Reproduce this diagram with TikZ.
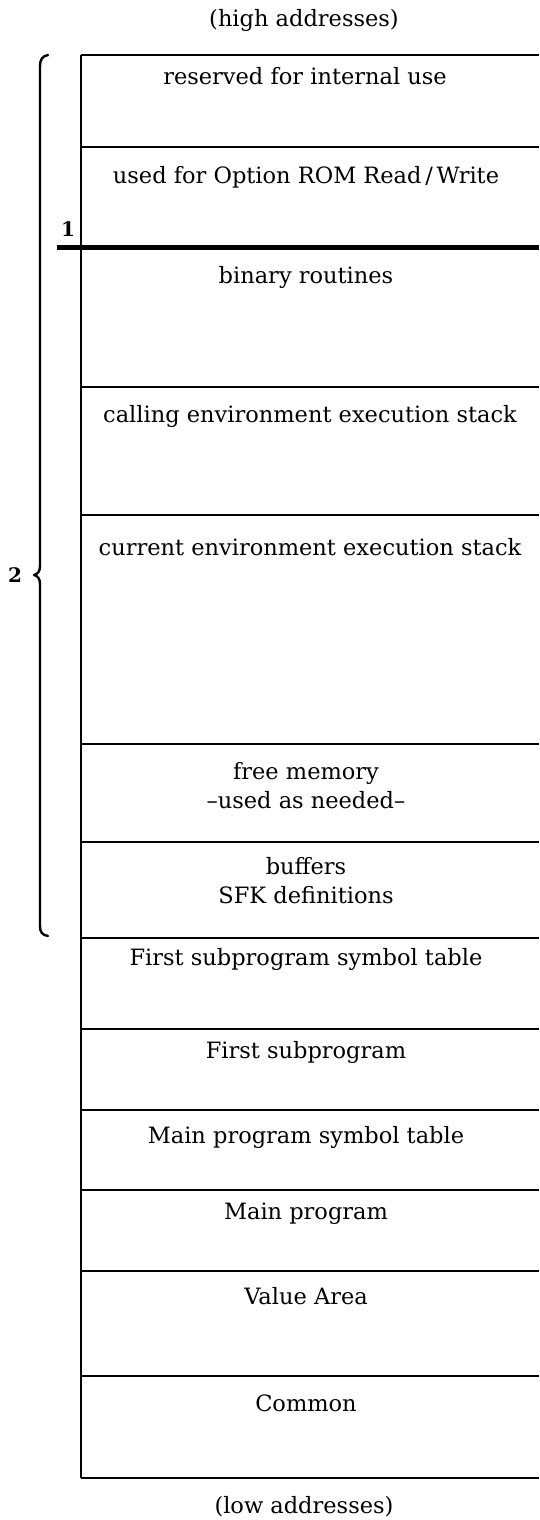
\documentclass[tikz,border=0pt]{standalone}
\usepackage{fontspec}
\setmainfont{DejaVu Serif}
\begin{document}
\begin{tikzpicture}[x=1pt,y=-1pt,
  lbl/.style={font=\fontsize{22.5}{29}\selectfont, inner sep=0pt, align=center},
  rule/.style={line width=2.5pt},
  thickrule/.style={line width=5pt},
  brace/.style={line width=2.4pt, line cap=round, line join=round}]
\useasboundingbox (0,0) rectangle (539,1520);
% boundaries
\foreach \n/\y in {0/55,1/147,2/247,3/387,4/515,5/744,6/842,7/938,8/1029,9/1110,10/1190,11/1271,12/1376,13/1478}{
  \coordinate (bl\n) at (81,\y);
  \coordinate (br\n) at (539,\y);
}
\coordinate (tk) at (57,247);
\draw[rule] (bl0) -- (bl13);
\foreach \n in {0,1,3,4,5,6,7,8,9,10,11,12,13}{
  \draw[rule] (bl\n) -- (br\n);
}
\draw[thickrule] (tk) -- (br2);
% texts
\node[lbl] (hi) at (304,20) {(high addresses)};
\node[lbl] (t0) at (305,76) {reserved for internal use};
\node[lbl] (t1) at (306,177) {used for Option ROM Read\,/\,Write};
\node[lbl] (t2) at (306,277) {binary routines};
\node[lbl] (t3) at (310,416) {calling environment execution stack};
\node[lbl] (t4) at (310,547) {current environment execution stack};
\node[lbl] (t5) at (306,786) {free memory\\--used as needed--};
\node[lbl] (t6) at (306,881) {buffers\\SFK definitions};
\node[lbl] (t7) at (306,959) {First subprogram symbol table};
\node[lbl] (t8) at (306,1052) {First subprogram};
\node[lbl] (t9) at (306,1137) {Main program symbol table};
\node[lbl] (t10) at (306,1214) {Main program};
\node[lbl] (t11) at (306,1296) {Value Area};
\node[lbl] (t12) at (306,1403) {Common};
\node[lbl] (lo) at (304,1507) {(low addresses)};
% markers
\node[lbl, font=\fontsize{20}{24}\bfseries] (one) at (68,229) {1};
\node[lbl, font=\fontsize{20}{24}\bfseries] (two) at (15,575) {2};
% brace
\draw[brace] (48,55) .. controls (42,56) and (40,60) .. (40,66)
  -- (40,566) .. controls (40,571) and (38,574) .. (34,575)
  .. controls (38,576) and (40,579) .. (40,584)
  -- (40,926) .. controls (40,932) and (42,935) .. (48,936);
\end{tikzpicture}
\end{document}
